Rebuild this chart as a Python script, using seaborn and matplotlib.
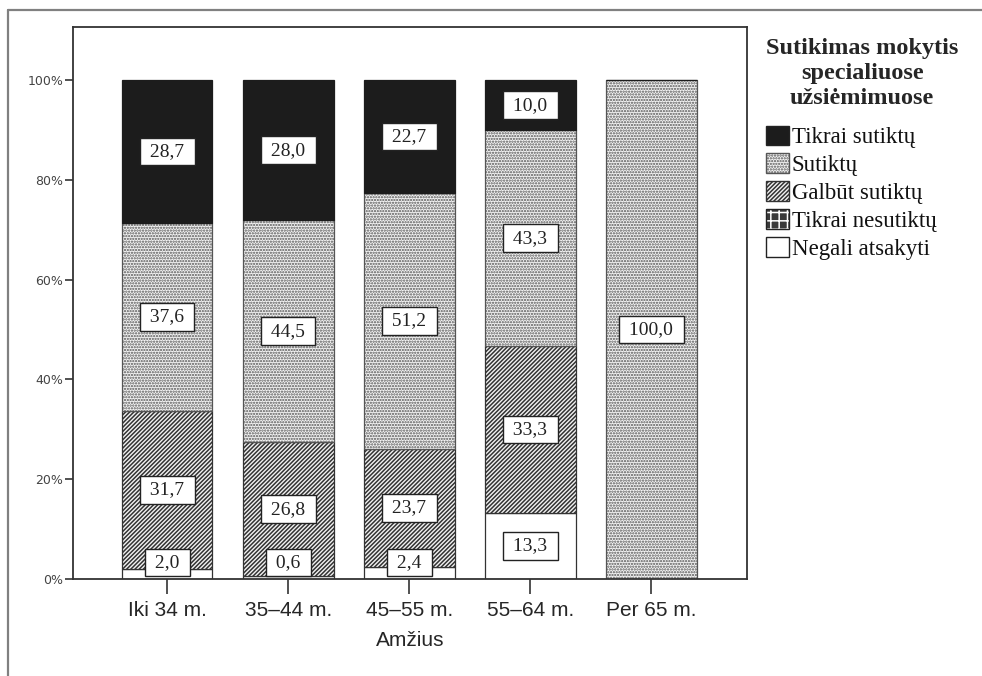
import numpy as np
import matplotlib
matplotlib.use("Agg")
import matplotlib.pyplot as plt
import seaborn as sns
from matplotlib.patches import Patch
from matplotlib.lines import Line2D

# Percentages of answers in each age group
age_groups = ["Iki 34 m.", "35–44 m.", "45–55 m.", "55–64 m.", "Per 65 m."]
negali_atsakyti = [2.0, 0.6, 2.4, 13.3, 0.0]
tikrai_nesutiktu = [0.0, 0.0, 0.0, 0.0, 0.0]
galbut_sutiktu = [31.7, 26.8, 23.7, 33.3, 0.0]
sutiktu = [37.6, 44.5, 51.2, 43.3, 100.0]
tikrai_sutiktu = [28.7, 28.0, 22.7, 10.0, 0.0]

# stacking order, bottom to top
series_names = ["Negali atsakyti", "Tikrai nesutiktų", "Galbūt sutiktų", "Sutiktų", "Tikrai sutiktų"]
series_values = [negali_atsakyti, tikrai_nesutiktu, galbut_sutiktu, sutiktu, tikrai_sutiktu]
y_ticks = [0, 20, 40, 60, 80, 100]
y_tick_labels = ["0%", "20%", "40%", "60%", "80%", "100%"]

legend_title = "Sutikimas mokytis\nspecialiuose\nužsiėmimuose"
legend_order = ["Tikrai sutiktų", "Sutiktų", "Galbūt sutiktų", "Tikrai nesutiktų", "Negali atsakyti"]
x_label = "Amžius"

styles = {
    "Negali atsakyti": dict(face="white", edge="#333333", hatch=None, lw=0.9),
    "Tikrai nesutiktų": dict(face="#3a3a3a", edge="white", hatch="++", lw=0.0),
    "Galbūt sutiktų": dict(face="#f2f2f2", edge="#333333", hatch="////////", lw=0.9),
    "Sutiktų": dict(face="#f4f4f4", edge="#555555", hatch="......", lw=0.9),
    "Tikrai sutiktų": dict(face="#1c1c1c", edge="#1c1c1c", hatch=None, lw=0.9),
}

sns.set_style("white")
plt.rcParams["font.family"] = ["DejaVu Sans"]
plt.rcParams["hatch.linewidth"] = 1.1

fig = plt.figure(figsize=(9.82, 6.76), dpi=100)
ax = fig.add_axes([73 / 982, 1 - 579 / 676, 674 / 982, 552 / 676])

serif = ["Liberation Serif", "DejaVu Serif"]
label_font = dict(family=serif, size=14)
bottom = np.zeros(len(age_groups))
for name, vals in zip(series_names, series_values):
    st = styles[name]
    vals = np.asarray(vals, dtype=float)
    sns.barplot(x=age_groups, y=vals, bottom=bottom, width=0.75, color=st["face"],
                edgecolor=st["edge"], hatch=st["hatch"], linewidth=st["lw"],
                saturation=1, errorbar=None, ax=ax, zorder=2)
    for i, v in enumerate(vals):
        if v <= 0:
            continue
        y = max(bottom[i] + v / 2, 3.3)
        ax.text(i, y, " " + f"{v:.1f}".replace(".", ",") + " ", ha="center", va="center",
                fontdict=label_font, color="#222222", zorder=5,
                bbox=dict(boxstyle="square,pad=0.28", facecolor="white",
                          edgecolor="#222222", linewidth=1.0))
    bottom += vals

ax.set_xlim(-0.777, 4.79)
ax.set_ylim(0, 110.6)
ax.set_yticks(y_ticks)
ax.set_yticklabels(y_tick_labels, fontsize=9, color="#444444")
ax.tick_params(axis="y", direction="out", length=6, width=1.2, color="#333333", left=True, pad=1)
ax.tick_params(axis="x", direction="out", length=11, width=1.2, color="#333333", bottom=True,
               labelsize=15, pad=5)
for lab in ax.get_xticklabels():
    lab.set_family(["Liberation Sans", "DejaVu Sans"])
ax.set_xlabel(x_label, fontsize=15, family=["Liberation Sans", "DejaVu Sans"], labelpad=8)
ax.set_ylabel("")
for sp in ax.spines.values():
    sp.set_visible(True)
    sp.set_color("#333333")
    sp.set_linewidth(1.3)

# legend
handles = []
for name in legend_order:
    st = styles[name]
    if name == "Tikrai nesutiktų":
        handles.append((Patch(facecolor=st["face"], edgecolor="white", hatch="++", linewidth=0),
                        Patch(fill=False, edgecolor="#222222", linewidth=1.0)))
    else:
        handles.append(Patch(facecolor=st["face"], edgecolor="#222222" if st["hatch"] is None else st["edge"],
                             hatch=st["hatch"], linewidth=1.0))
leg = fig.legend(handles, legend_order, title=legend_title, loc="upper left",
                 bbox_to_anchor=(766 / 982, 1 - 38 / 676), frameon=False,
                 prop=dict(family=serif, size=16.5),
                 title_fontproperties=dict(family=serif, size=17.5, weight="bold"),
                 handlelength=1.0, handleheight=0.95, handletextpad=0.12, labelspacing=0.22,
                 borderpad=0, borderaxespad=0, alignment="left")
leg.get_title().set_multialignment("center")
leg.get_title().set_linespacing(1.25)
leg._legend_box.sep = 12
for t in leg.get_texts():
    t.set_color("#111111")

# outer frame lines
fig.add_artist(Line2D([8 / 982, 8 / 982], [0, 1 - 10 / 676], transform=fig.transFigure,
                      color="#808080", linewidth=1.6))
fig.add_artist(Line2D([8 / 982, 1], [1 - 10 / 676, 1 - 10 / 676], transform=fig.transFigure,
                      color="#808080", linewidth=1.6))

fig.savefig("out.png", dpi=100, facecolor="white")
